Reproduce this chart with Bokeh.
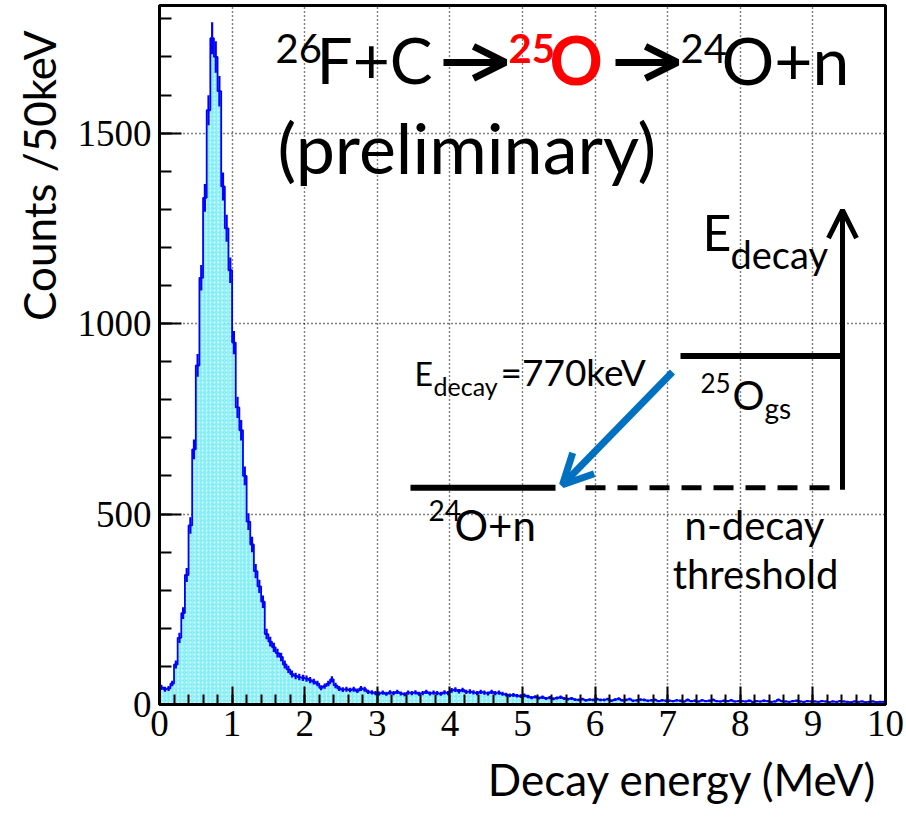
import math
from bokeh.plotting import figure
from bokeh.models import (ColumnDataSource, Label, Arrow, OpenHead, Title,
                          SingleIntervalTicker, Range1d)
from bokeh.embed import file_html
from bokeh.resources import INLINE

# ---------------- data ----------------
bin_width_mev = 0.05
x_start, x_end = 0.0, 10.0
y_end = 1835
counts = [45, 40, 42, 55, 105, 175, 240, 340, 470, 670,
          890, 1120, 1330, 1560, 1749, 1700, 1610, 1360, 1250, 1140,
          950, 780, 720, 600, 480, 420, 350, 310, 270, 185,
          165, 150, 135, 125, 105, 92, 80, 75, 72, 70,
          68, 64, 60, 55, 44, 48, 55, 66, 50, 42,
          39, 40, 38, 40, 36, 42, 40, 33, 32, 30,
          29, 31, 28, 32, 30, 33, 29, 27, 31, 30, 32, 28, 30, 33, 29, 31, 30, 28, 32, 30,
          37, 39, 35, 38, 33, 34,
          32, 30, 33, 31, 29, 33, 30, 31, 28,
          26, 24, 25, 23, 22, 24, 21,
          18, 20, 17, 19, 16, 18, 15, 17, 19, 16, 14, 16,
          13, 12, 14, 11, 13, 12, 14, 12,
          12, 14, 10, 13, 15, 11, 12, 14, 10, 11, 13, 12, 10, 11, 12, 9, 11, 10,
          10, 9, 11, 10, 8, 12, 9, 10, 8, 11, 9, 10, 12, 9, 8, 10, 9, 11, 8, 9,
          9, 8, 10, 7, 9, 8, 10, 9, 7, 8, 12, 9, 8, 7, 9, 10, 8, 7, 9, 8,
          8, 7, 9, 8, 6, 8, 7, 9, 8, 7, 6, 8, 7, 8, 6, 7, 8, 6, 7, 7]
x_ticks_labels = ["0", "1", "2", "3", "4", "5", "6", "7", "8", "9", "10"]
x_title = "Decay energy (MeV)"
y_title = "Counts /50keV"

left = [i * bin_width_mev for i in range(len(counts))]
right = [l + bin_width_mev for l in left]
centers = [l + bin_width_mev / 2 for l in left]
err_lo = [c - math.sqrt(c) for c in counts]
err_hi = [c + math.sqrt(c) for c in counts]
src = ColumnDataSource(dict(left=left, right=right, top=counts,
                            bottom=[0] * len(counts), x=centers,
                            lo=err_lo, hi=err_hi))
step_x = left + [right[-1]]
step_y = counts + [counts[-1]]

W, H = 906, 817
ML, MR, MT, MB = 159, 21, 5, 112

p = figure(width=W, height=H, output_backend="svg", toolbar_location=None,
           x_range=Range1d(x_start, x_end), y_range=Range1d(0, y_end),
           min_border_left=ML, min_border_right=MR, min_border_top=MT,
           min_border_bottom=MB)
p.background_fill_color = "white"
p.border_fill_color = "white"
p.outline_line_color = "black"
p.outline_line_width = 3

# histogram
p.quad(left="left", right="right", top="top", bottom="bottom", source=src,
       fill_color="#86eef4", line_color=None,
       hatch_pattern="dot", hatch_color="white", hatch_alpha=0.7, hatch_scale=4)
p.step(x=step_x, y=step_y, mode="after", line_color="#0000ff", line_width=1.8)
p.segment(x0="x", x1="x", y0="lo", y1="hi", source=src,
          line_color="#0000ff", line_width=2.2)

# axes
p.xaxis.ticker = SingleIntervalTicker(interval=1, num_minor_ticks=5)
p.yaxis.ticker = SingleIntervalTicker(interval=500, num_minor_ticks=5)
p.xaxis.major_label_overrides = {i: s for i, s in enumerate(x_ticks_labels)}
for ax in (p.xaxis[0], p.yaxis[0]):
    ax.axis_line_width = 3
    ax.axis_line_color = "black"
    ax.major_tick_out = 0
    ax.minor_tick_out = 0
    ax.major_tick_line_width = 2
    ax.minor_tick_line_width = 2
    ax.major_tick_line_color = "black"
    ax.minor_tick_line_color = "black"
    ax.major_label_text_font = "Liberation Serif"
    ax.major_label_text_font_size = "37px"
    ax.major_label_text_color = "black"
p.xaxis.major_tick_in = 18
p.xaxis.minor_tick_in = 10
p.yaxis.major_tick_in = 22
p.yaxis.minor_tick_in = 12
p.xaxis.major_label_standoff = 6
p.yaxis.major_label_standoff = 8

p.xgrid.grid_line_color = "black"
p.ygrid.grid_line_color = "black"
p.xgrid.grid_line_dash = "1 3"
p.ygrid.grid_line_dash = "1 3"
p.xgrid.grid_line_width = 1.4
p.ygrid.grid_line_width = 1.4

FONT = "Lato"

# axis titles, right-aligned as in ROOT
xt = Title(text=x_title, align="right", offset=8, standoff=25,
           text_font=FONT, text_font_size="44px", text_font_style="normal",
           text_color="black")
p.add_layout(xt, "below")
yt = Title(text=y_title, align="right", offset=25, standoff=20,
           text_font=FONT, text_font_size="44px", text_font_style="normal",
           text_color="black")
p.add_layout(yt, "left")

# ---------------- annotations (placed by pixel position in the panel) ----------------
XS = (W - ML - MR) / (x_end - x_start)
YS = (H - MT - MB) / y_end
def d(px, py):
    return ((px - ML) / XS, (H - MB - py) / YS)

BASE_K = 0.4  # empirical shift of the svg text baseline

def txt(s, px, py, size, color="black", bold=False, align="left"):
    x, y = d(px, py - BASE_K * size)
    p.add_layout(Label(x=x, y=y, text=s, text_font=FONT, text_font_size=f"{size}px",
                       text_color=color, text_font_style="bold" if bold else "normal",
                       text_align=align, text_baseline="alphabetic"))

def line(x0, y0, x1, y1, color="black", width=6, dash="solid", head=None):
    a, b = d(x0, y0)
    c, e = d(x1, y1)
    p.add_layout(Arrow(x_start=a, y_start=b, x_end=c, y_end=e, line_color=color,
                       line_width=width, line_dash=dash, end=head))

# title line 1
txt("26", 275, 64, 40)
txt("F+C", 316, 85, 64)
line(443, 62, 505, 62, width=7, head=OpenHead(size=32, line_width=7))
txt("25", 508, 64, 40, color="#ff0000", bold=True)
txt("O", 549, 85, 66, color="#ff0000", bold=True)
line(615, 62, 677, 62, width=7, head=OpenHead(size=32, line_width=7))
txt("24", 680, 64, 40)
txt("O+n", 721, 85, 66)
# title line 2
txt("(preliminary)", 277, 175, 70)

# level diagram
txt("E", 702, 252, 50)
txt("decay", 730, 269, 38)
line(842, 490, 842, 210, width=5, head=OpenHead(size=28, line_width=5))
line(680, 356, 842, 356, width=6)
txt("25", 700, 393, 26)
txt("O", 732, 411, 40)
txt("gs", 764, 419, 28)

txt("E", 414, 386, 32)
txt("decay", 433, 396, 25)
txt("=770keV", 500, 386, 37)
line(672, 372, 562, 485, color="#0070c0", width=7,
     head=OpenHead(size=30, line_width=7, line_color="#0070c0"))

line(410, 488, 555, 488, width=6)
line(585, 488, 840, 488, width=5, dash="20 12")
txt("24", 428, 522, 28)
txt("O+n", 454, 542, 42)
txt("n-decay", 754, 541, 40, align="center")
txt("threshold", 755, 590, 40, align="center")

open("out.html", "w").write(file_html(p, INLINE))
